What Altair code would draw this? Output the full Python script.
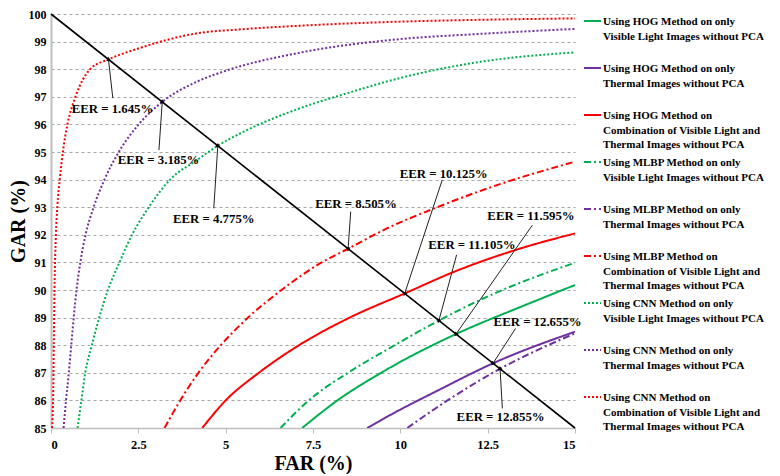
import math
import altair as alt
import pandas as pd

FONT = "Liberation Serif"

# ---------------- data ----------------
series_names = [
    "HOG visible", "HOG thermal", "HOG combination",
    "MLBP visible", "MLBP thermal", "MLBP combination",
    "CNN visible", "CNN thermal", "CNN combination",
]
series_colors = ["#00b050", "#7030a0", "#ff0000"] * 3
series_dashes = [[1, 0]] * 3 + [[7, 3, 2, 3]] * 3 + [[2, 2]] * 3
legend_texts = [
    "Using HOG Method on only\nVisible Light Images without PCA",
    "Using HOG Method on only\nThermal Images without PCA",
    "Using HOG Method on\nCombination of Visible Light and\nThermal Images without PCA",
    "Using MLBP Method on only\nVisible Light Images without PCA",
    "Using MLBP Method on only\nThermal Images without PCA",
    "Using MLBP Method on\nCombination of Visible Light and\nThermal Images without PCA",
    "Using CNN Method on only\nVisible Light Images without PCA",
    "Using CNN Method on only\nThermal Images without PCA",
    "Using CNN Method on\nCombination of Visible Light and\nThermal Images without PCA",
]

hog_vis_far = [7.19, 8.2, 9.45, 11.595, 13.45, 15]
hog_vis_gar = [85, 86, 87, 88.405, 89.39, 90.18]
hog_th_far = [9.05, 9.9, 11.06, 12.655, 15]
hog_th_gar = [85, 85.6, 86.35, 87.345, 88.49]
hog_comb_far = [4.33, 5.0, 5.95, 7.1, 8.55, 10.125, 11.54, 13.45, 15]
hog_comb_gar = [85, 86, 87, 88, 89, 89.875, 90.66, 91.51, 92.05]

mlbp_vis_far = [6.57, 7.38, 8.5, 9.63, 11.105, 12.49, 15]
mlbp_vis_gar = [85, 86, 87, 87.85, 88.895, 89.76, 90.99]
mlbp_th_far = [10.2, 11.35, 12.855, 15]
mlbp_th_gar = [85, 86, 87.145, 88.43]
mlbp_comb_far = [3.25, 3.7, 4.22, 4.86, 5.64, 6.6, 7.75, 8.505, 9.63, 11.06, 12.49, 15]
mlbp_comb_gar = [85, 86, 87, 88, 89, 90, 91, 91.495, 92.24, 93.0, 93.68, 94.65]

cnn_vis_far = [0.76, 0.87, 0.98, 1.17, 1.38, 1.63, 1.96, 2.32, 2.8, 3.41, 4.18, 4.775, 5.62, 7.05, 8.48, 9.9, 12.3, 15]
cnn_vis_gar = [85, 86, 87, 88, 89, 90, 91, 92, 93, 94, 94.71, 95.225, 95.8, 96.55, 97.13, 97.65, 98.27, 98.61]
cnn_th_far = [0.36, 0.43, 0.51, 0.58, 0.65, 0.73, 0.84, 0.99, 1.22, 1.53, 1.94, 2.51, 3.185, 4.18, 4.9, 7.05, 9.9, 12.3, 15]
cnn_th_gar = [85, 86, 87, 88, 89, 90, 91, 92, 93, 94, 95, 96, 96.815, 97.55, 97.9, 98.58, 99.08, 99.28, 99.46]
cnn_comb_far = [0.03, 0.06, 0.08, 0.10, 0.14, 0.18, 0.25, 0.34, 0.47, 0.70, 1.12, 1.645, 2.5, 4.18, 5.5, 7.05, 9.9, 12.3, 15]
cnn_comb_gar = [85, 86, 88, 90, 92, 93, 94, 95, 96, 97, 98, 98.355, 98.75, 99.3, 99.45, 99.57, 99.72, 99.79, 99.84]

eer_far = [0, 15]
eer_gar = [100, 85]

# annotations: label text position, arrow start, arrow end (EER point)
ann_labels = ["EER = 1.645%", "EER = 3.185%", "EER = 4.775%", "EER = 8.505%", "EER = 10.125%",
              "EER = 11.105%", "EER = 11.595%", "EER = 12.655%", "EER = 12.855%"]
ann_tx = [1.76, 3.08, 4.66, 8.73, 11.24, 12.05, 13.74, 13.93, 12.87]
ann_ty = [96.55, 94.71, 92.57, 93.12, 94.2, 91.63, 92.68, 88.85, 85.39]
ann_sx = [1.77, 3.09, 4.66, 8.58, 11.2, 11.61, 13.78, 13.3, 12.92]
ann_sy = [96.95, 95.07, 92.96, 92.84, 93.99, 91.27, 92.35, 88.61, 85.71]
ann_ex = [1.645, 3.185, 4.775, 8.505, 10.125, 11.105, 11.595, 12.655, 12.855]
ann_ey = [98.355, 96.815, 95.225, 91.495, 89.875, 88.895, 88.405, 87.345, 87.145]

x_ticks = [0, 2.5, 5, 7.5, 10, 12.5, 15]
y_ticks = list(range(85, 101))

# ---------------- tables ----------------
curves = [
    (hog_vis_far, hog_vis_gar), (hog_th_far, hog_th_gar), (hog_comb_far, hog_comb_gar),
    (mlbp_vis_far, mlbp_vis_gar), (mlbp_th_far, mlbp_th_gar), (mlbp_comb_far, mlbp_comb_gar),
    (cnn_vis_far, cnn_vis_gar), (cnn_th_far, cnn_th_gar), (cnn_comb_far, cnn_comb_gar),
]
rows = []
for name, (fs, gs) in zip(series_names, curves):
    for j, (f, g) in enumerate(zip(fs, gs)):
        rows.append({"series": name, "far": f, "gar": g, "ord": j})
df = pd.DataFrame(rows)

eer_df = pd.DataFrame({"far": eer_far, "gar": eer_gar})

W, H = 524, 414
PX_X, PX_Y = W / 15.0, H / 15.0
angles = []
for sx, sy, ex, ey in zip(ann_sx, ann_sy, ann_ex, ann_ey):
    dx = (ex - sx) * PX_X
    dy_screen = -(ey - sy) * PX_Y
    a = math.degrees(math.atan2(dx, -dy_screen)) % 360
    angles.append(a)
ann_df = pd.DataFrame({"label": ann_labels, "tx": ann_tx, "ty": ann_ty,
                       "sx": ann_sx, "sy": ann_sy, "ex": ann_ex, "ey": ann_ey, "ang": angles})

x_scale = alt.Scale(domain=[0, 15], nice=False, zero=False)
y_scale = alt.Scale(domain=[85, 100], nice=False, zero=False)

x_axis = alt.Axis(values=x_ticks, labelExpr="'' + datum.value", grid=False, labelFont=FONT,
                  labelFontWeight="bold", labelFontSize=12.5, labelColor="#000", labelOverlap=False,
                  domainColor="#bfbfbf", domainWidth=1.5, tickColor="#bfbfbf", tickSize=5,
                  labelPadding=5, title="FAR (%)", titleFont=FONT, titleFontSize=20,
                  titleFontWeight="bold", titleColor="#000", titlePadding=3)
y_axis = alt.Axis(values=y_ticks, labelExpr="'' + datum.value", grid=True, gridDash=[3, 3],
                  gridColor="#a6a6a6", gridWidth=1, labelFont=FONT, labelFontWeight="bold",
                  labelFontSize=12, labelColor="#000", labelOverlap=False, labelSeparation=0,
                  domainColor="#bfbfbf", domainWidth=2, ticks=False, labelPadding=5,
                  title="GAR (%)", titleFont=FONT, titleFontSize=20, titleFontWeight="bold",
                  titleColor="#000", titlePadding=0)


def X(field):
    return alt.X(field, scale=x_scale, axis=x_axis)


def Y(field):
    return alt.Y(field, scale=y_scale, axis=y_axis)


lines = alt.Chart(df).mark_line(strokeWidth=2, interpolate="monotone", clip=True).encode(
    x=X("far:Q"), y=Y("gar:Q"),
    color=alt.Color("series:N", scale=alt.Scale(domain=series_names, range=series_colors), legend=None),
    strokeDash=alt.StrokeDash("series:N", scale=alt.Scale(domain=series_names, range=series_dashes), legend=None),
    detail="series:N",
    order="ord:Q",
)

eer_line = alt.Chart(eer_df).mark_line(color="#000", strokeWidth=1.6).encode(
    x=X("far:Q"), y=Y("gar:Q"))

arrows = alt.Chart(ann_df).mark_rule(color="#222", strokeWidth=1).encode(
    x=X("sx:Q"), y=Y("sy:Q"), x2="ex:Q", y2="ey:Q")
heads = alt.Chart(ann_df).mark_point(shape="triangle", filled=True, size=22, color="#000", opacity=1).encode(
    x=X("ex:Q"), y=Y("ey:Q"), angle=alt.Angle("ang:Q", scale=None))
labels = alt.Chart(ann_df).mark_text(font=FONT, fontWeight="bold", fontSize=12.8, color="#000").encode(
    x=X("tx:Q"), y=Y("ty:Q"), text="label:N")

main = alt.layer(lines, eer_line, arrows, heads, labels).properties(width=W, height=H)

# ---------------- legend panel ----------------
leg_df = pd.DataFrame({"series": series_names, "idx": list(range(9)), "text": legend_texts})
ly = alt.Y("idx:Q", scale=alt.Scale(domain=[-0.15, 8.85], reverse=True, nice=False, zero=False), axis=None)
leg_sym = alt.Chart(leg_df).mark_rule(strokeWidth=2).encode(
    y=ly, x=alt.value(0), x2=alt.value(17),
    color=alt.Color("series:N", scale=alt.Scale(domain=series_names, range=series_colors), legend=None),
    strokeDash=alt.StrokeDash("series:N", scale=alt.Scale(domain=series_names, range=series_dashes), legend=None),
)
leg_txt = alt.Chart(leg_df).mark_text(font=FONT, fontWeight="bold", fontSize=11, color="#000",
                                      align="left", baseline="alphabetic", dy=4, lineBreak="\n",
                                      lineHeight=14.5).encode(
    y=ly, x=alt.value(19), text="text:N")
legend = alt.layer(leg_sym, leg_txt).properties(width=150, height=423)

chart = alt.hconcat(main, legend, spacing=1).properties(
    padding={"left": 0, "top": 0, "right": 0, "bottom": 0}
).configure_view(stroke=None).configure_axis(labelOverlap=False).resolve_scale(
    color="independent", strokeDash="independent")

chart.save("out.html", embed_options={"renderer": "svg", "actions": False})
